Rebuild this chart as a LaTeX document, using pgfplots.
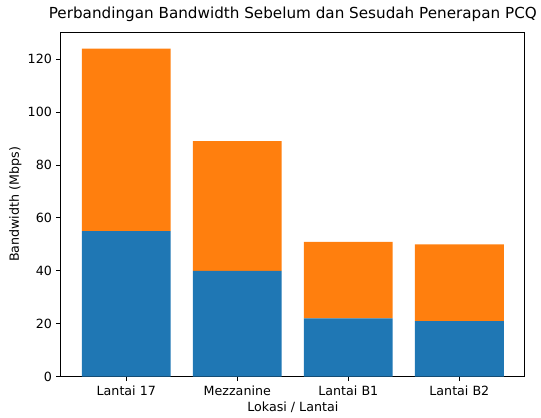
\documentclass[border=0pt]{standalone}
\usepackage{pgfplots}
\pgfplotsset{compat=1.18}
\usepackage{fontspec}
\setmainfont{DejaVu Sans}
\definecolor{mplblue}{HTML}{1F77B4}
\definecolor{mplorange}{HTML}{FF7F0E}
\begin{document}
\begin{tikzpicture}
\begin{axis}[
  scale only axis,
  width=366.5pt, height=272pt,
  ybar stacked,
  bar width=0.8,
  xmin=-0.59, xmax=3.59,
  ymin=0, ymax=130.2,
  xtick={0,1,2,3},
  xticklabels={Lantai 17,Mezzanine,Lantai B1,Lantai B2},
  ytick={0,20,40,60,80,100,120},
  tick align=outside,
  tick pos=left,
  major tick length=3.5pt,
  every tick/.style={black, line width=0.8pt},
  axis line style={line width=0.8pt},
  tick label style={font=\fontsize{10}{12}\selectfont},
  /pgf/number format/assume math mode=true,
  xlabel={Lokasi / Lantai},
  ylabel={Bandwidth (Mbps)},
  label style={font=\fontsize{10}{12}\selectfont},
  title={Perbandingan Bandwidth Sebelum dan Sesudah Penerapan PCQ},
  title style={font=\fontsize{12}{14}\selectfont, yshift=-1pt},
  xlabel style={yshift=2pt},
  ylabel style={yshift=-2pt},
]
\addplot[fill=mplblue, draw=none] coordinates {(0,55) (1,40) (2,22) (3,21)};
\addplot[fill=mplorange, draw=none] coordinates {(0,69) (1,49) (2,29) (3,29)};
\end{axis}
\path (current bounding box.west) ++(-4pt,0);
\path (current bounding box.north) ++(0,2pt);
\path (current bounding box.south) ++(0,-1pt);
\end{tikzpicture}
\end{document}
